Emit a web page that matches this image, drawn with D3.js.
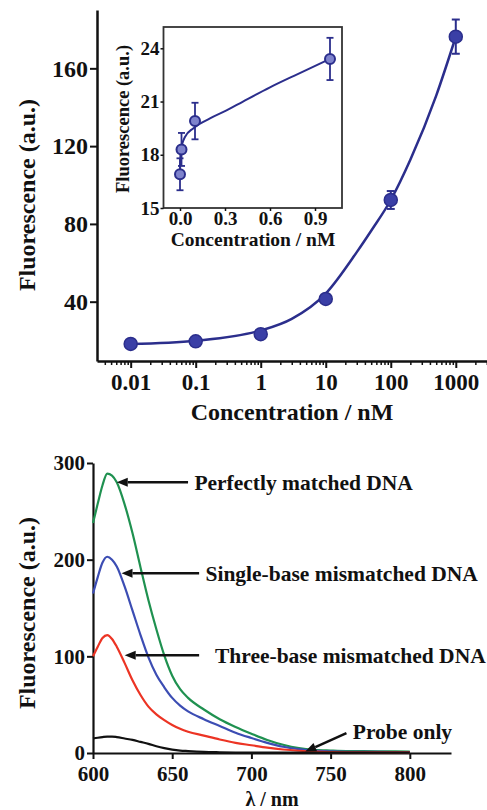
<!DOCTYPE html>
<html>

<head>
	<meta charset="utf-8">
	<title>Fluorescence vs concentration and emission spectra</title>
	<style>
		body {
			margin: 0;
			background: #fff;
		}

		svg text {
			font-family: "Liberation Serif", "Times New Roman", serif;
			font-weight: bold;
			fill: #111;
		}

		.axis path,
		.axis line {
			stroke: #111;
		}
	</style>
</head>

<body>
	<div id="chart"></div>
	<script src="https://cdn.jsdelivr.net/npm/d3@7/dist/d3.min.js"></script>
	<script>
		// ---- data: top panel (log concentration) ----
		var concs = [0.01, 0.1, 1, 10, 100, 1000];
		var fluo = [18.3, 19.6, 23.3, 41.4, 92.3, 176.3];
		var fluoErr = [1.0, 1.0, 1.2, 1.5, 4.6, 8.8];
		// fitted curve
		var fitConcs = [0.01, 0.1, 1, 3, 10, 30, 50, 100, 200, 500, 1000];
		var fitFluo = [18.2, 19.9, 25.2, 31.2, 44.2, 65.5, 76.5, 92.3, 113, 146, 176.3];
		var mainTicks = [0.01, 0.1, 1, 10, 100, 1000];
		var mainYTicks = [40, 80, 120, 160];

		// ---- data: inset (linear concentration) ----
		var insetConcs = [0, 0.01, 0.1, 1];
		var insetFluo = [16.9, 18.3, 19.9, 23.4];
		var insetErr = [0.9, 0.93, 1.03, 1.19];
		var insetFitConcs = [0, 0.004, 0.033, 0.09, 0.2, 0.31, 0.42, 0.6, 0.76, 1];
		var insetFitFluo = [16.9, 18.2, 19.0, 19.5, 20.05, 20.5, 21.0, 21.8, 22.45, 23.4];
		var insetXTicks = [0, 0.3, 0.6, 0.9];
		var insetYTicks = [15, 18, 21, 24];

		// ---- data: bottom panel (spectra) ----
		var wavelengths = [600, 603, 606, 609, 612, 615, 620, 625, 630, 635, 640, 645, 650, 655, 660, 670, 680, 690, 700, 710, 720, 730, 740, 750, 760, 780, 800];
		var perfectMatch = [238, 258, 277, 289, 287, 280, 257, 227, 192, 158, 128, 101, 80, 66, 57, 45, 35, 27, 20, 13.5, 8.5, 5, 3.2, 2.5, 2, 1.8, 1.5];
		var singleMismatch = [165, 182, 197, 203, 200, 193, 172, 147, 122, 99, 81, 68, 57, 49, 43, 35, 28, 21, 15.5, 10.5, 6.5, 4, 2.4, 1.7, 1.3, 1.1, 1];
		var threeMismatch = [100, 110, 119, 122, 118, 110, 93, 75, 60, 48, 40, 34, 29, 25, 22, 18, 14, 10.5, 8, 5.5, 3.6, 2.3, 1.4, 1, 0.8, 0.7, 0.6];
		var probeOnly = [15, 15.8, 16.5, 17, 17, 16.5, 15, 13.5, 11.5, 9.5, 7, 5, 3.5, 2.5, 2, 1.2, 0.8, 0.5, 0.4, 0.3, 0.3, 0.3, 0.3, 0.3, 0.3, 0.3, 0.3];
		var specXTicks = [600, 650, 700, 750, 800];
		var specYTicks = [0, 100, 200, 300];

		var spectra = [
			{ name: "perfect", values: perfectMatch, color: "#1f9150" },
			{ name: "single", values: singleMismatch, color: "#3c4db3" },
			{ name: "three", values: threeMismatch, color: "#ec3424" },
			{ name: "probe", values: probeOnly, color: "#111111" }
		];

		// annotations: arrow tip (wavelength, value), tail, text start
		var notes = [
			{ text: "Perfectly matched DNA", tip: [615, 280], tail: [660, 280], at: [664, 280] },
			{ text: "Single-base mismatched DNA", tip: [618, 186], tail: [667, 186], at: [671, 186] },
			{ text: "Three-base mismatched DNA", tip: [620, 101], tail: [667, 101], at: [677, 101] },
			{ text: "Probe only", tip: [734, 1.5], tail: [760, 20.5], at: [764, 22] }
		];

		var width = 487, height = 810;
		var navy = "#2b2e8c";

		var svg = d3.select("#chart").append("svg")
			.attr("width", width)
			.attr("height", height);

		svg.append("rect").attr("width", width).attr("height", height).attr("fill", "#fff");

		// ================= top panel =================
		var x = d3.scaleLog()
			.domain([Math.pow(10, -2.518), Math.pow(10, 3.48)])
			.range([97, 487]);
		var y = d3.scaleLinear()
			.domain([9.5, 190])
			.range([361, 10]);

		// minor log ticks
		var minor = [];
		for (var d = -3; d <= 3; d++) {
			for (var k = 2; k <= 9; k++) {
				var v = k * Math.pow(10, d);
				if (v > x.domain()[0] && v < x.domain()[1]) minor.push(v);
			}
		}

		var xAxisMinor = svg.append("g")
			.attr("class", "axis")
			.attr("transform", "translate(0,361)")
			.call(d3.axisBottom(x).tickValues(minor).tickSize(4).tickFormat(""));
		xAxisMinor.select(".domain").remove();
		xAxisMinor.selectAll("line").attr("stroke-width", 1.5);

		var xAxis = svg.append("g")
			.attr("class", "axis")
			.attr("transform", "translate(0,361)")
			.call(d3.axisBottom(x).tickValues(mainTicks).tickSize(7).tickSizeOuter(0)
				.tickFormat(function (d) { return d >= 1 ? d3.format("d")(d) : String(d); }));
		xAxis.select(".domain").attr("stroke-width", 2.5);
		xAxis.selectAll("line").attr("stroke-width", 2);
		xAxis.selectAll("text").attr("font-size", 23).attr("y", 6).attr("dy", "1em");

		var yAxis = svg.append("g")
			.attr("class", "axis")
			.attr("transform", "translate(97,0)")
			.call(d3.axisLeft(y).tickValues(mainYTicks).tickSize(7).tickSizeOuter(0));
		yAxis.select(".domain").attr("stroke-width", 2.5);
		yAxis.selectAll("line").attr("stroke-width", 2);
		yAxis.selectAll("text").attr("font-size", 24).attr("x", -9);

		svg.append("text")
			.attr("text-anchor", "middle")
			.attr("font-size", 24)
			.attr("transform", "translate(35,195) rotate(-90)")
			.text("Fluorescence (a.u.)");

		svg.append("text")
			.attr("x", 292).attr("y", 420)
			.attr("text-anchor", "middle")
			.attr("font-size", 24)
			.text("Concentration / nM");

		// fitted curve
		var fitLine = d3.line()
			.x(function (d, i) { return x(fitConcs[i]); })
			.y(function (d) { return y(d); })
			.curve(d3.curveMonotoneX);
		svg.append("path")
			.attr("d", fitLine(fitFluo))
			.attr("fill", "none")
			.attr("stroke", navy)
			.attr("stroke-width", 2.5);

		// error bars
		var eb = svg.append("g").attr("stroke", navy).attr("stroke-width", 2);
		concs.forEach(function (c, i) {
			var cx = x(c);
			eb.append("line").attr("x1", cx).attr("x2", cx)
				.attr("y1", y(fluo[i] - fluoErr[i])).attr("y2", y(fluo[i] + fluoErr[i]));
			[-1, 1].forEach(function (s) {
				eb.append("line").attr("x1", cx - 4).attr("x2", cx + 4)
					.attr("y1", y(fluo[i] + s * fluoErr[i])).attr("y2", y(fluo[i] + s * fluoErr[i]));
			});
		});

		// markers
		svg.append("g").selectAll("circle")
			.data(fluo)
			.join("circle")
			.attr("cx", function (d, i) { return x(concs[i]); })
			.attr("cy", function (d) { return y(d); })
			.attr("r", 6.5)
			.attr("fill", "#3a3fa6")
			.attr("stroke", navy)
			.attr("stroke-width", 1.5);

		// ================= inset =================
		var xi = d3.scaleLinear().domain([-0.11, 1.08]).range([163.5, 342]);
		var yi = d3.scaleLinear().domain([15, 25.2]).range([208, 27]);

		svg.append("rect")
			.attr("x", 163.5).attr("y", 27)
			.attr("width", 342 - 163.5).attr("height", 208 - 27)
			.attr("fill", "#fff")
			.attr("stroke", "#333")
			.attr("stroke-width", 1.8);

		var xiAxis = svg.append("g")
			.attr("class", "axis")
			.attr("transform", "translate(0,208)")
			.call(d3.axisBottom(xi).tickValues(insetXTicks).tickSize(3).tickSizeOuter(0).tickFormat(d3.format(".1f")));
		xiAxis.select(".domain").remove();
		xiAxis.selectAll("line").attr("stroke-width", 1.5);
		xiAxis.selectAll("text").attr("font-size", 19).attr("dy", "0.8em").attr("y", 2);

		var yiAxis = svg.append("g")
			.attr("class", "axis")
			.attr("transform", "translate(163.5,0)")
			.call(d3.axisLeft(yi).tickValues(insetYTicks).tickSize(3).tickSizeOuter(0));
		yiAxis.select(".domain").remove();
		yiAxis.selectAll("line").attr("stroke-width", 1.5);
		yiAxis.selectAll("text").attr("font-size", 19).attr("x", -4);

		svg.append("text")
			.attr("text-anchor", "middle")
			.attr("font-size", 18.5)
			.attr("transform", "translate(129,119) rotate(-90)")
			.text("Fluorescence (a.u.)");

		svg.append("text")
			.attr("x", 253).attr("y", 246)
			.attr("text-anchor", "middle")
			.attr("font-size", 19.5)
			.text("Concentration / nM");

		var insetLine = d3.line()
			.x(function (d, i) { return xi(insetFitConcs[i]); })
			.y(function (d) { return yi(d); })
			.curve(d3.curveMonotoneX);
		svg.append("path")
			.attr("d", insetLine(insetFitFluo))
			.attr("fill", "none")
			.attr("stroke", navy)
			.attr("stroke-width", 2);

		var ebi = svg.append("g").attr("stroke", navy).attr("stroke-width", 1.8);
		insetConcs.forEach(function (c, i) {
			var cx = xi(c);
			ebi.append("line").attr("x1", cx).attr("x2", cx)
				.attr("y1", yi(insetFluo[i] - insetErr[i])).attr("y2", yi(insetFluo[i] + insetErr[i]));
			[-1, 1].forEach(function (s) {
				ebi.append("line").attr("x1", cx - 3.5).attr("x2", cx + 3.5)
					.attr("y1", yi(insetFluo[i] + s * insetErr[i])).attr("y2", yi(insetFluo[i] + s * insetErr[i]));
			});
		});

		svg.append("g").selectAll("circle")
			.data(insetFluo)
			.join("circle")
			.attr("cx", function (d, i) { return xi(insetConcs[i]); })
			.attr("cy", function (d) { return yi(d); })
			.attr("r", 5)
			.attr("fill", "#7e83cc")
			.attr("stroke", navy)
			.attr("stroke-width", 2);

		// ================= bottom panel =================
		var xs = d3.scaleLinear().domain([600, 826]).range([93, 451]);
		var ys = d3.scaleLinear().domain([0, 300]).range([753, 463]);

		var xsAxis = svg.append("g")
			.attr("class", "axis")
			.attr("transform", "translate(0,753)")
			.call(d3.axisBottom(xs).tickValues(specXTicks).tickSize(6).tickSizeOuter(0));
		xsAxis.select(".domain").attr("stroke-width", 2.2);
		xsAxis.selectAll("line").attr("stroke-width", 2);
		xsAxis.selectAll("text").attr("font-size", 21).attr("dy", "0.9em");

		var ysAxis = svg.append("g")
			.attr("class", "axis")
			.attr("transform", "translate(93,0)")
			.call(d3.axisLeft(ys).tickValues(specYTicks).tickSize(6).tickSizeOuter(0));
		ysAxis.select(".domain").attr("stroke-width", 2.2);
		ysAxis.selectAll("line").attr("stroke-width", 2);
		ysAxis.selectAll("text").attr("font-size", 21).attr("x", -8);

		svg.append("text")
			.attr("text-anchor", "middle")
			.attr("font-size", 24)
			.attr("transform", "translate(35,613) rotate(-90)")
			.text("Fluorescence (a.u.)");

		// x title sits at the very bottom edge, as in the source figure
		svg.append("text")
			.attr("x", 272).attr("y", 806)
			.attr("text-anchor", "middle")
			.attr("font-size", 20)
			.text("λ / nm");

		var specLine = d3.line()
			.x(function (d, i) { return xs(wavelengths[i]); })
			.y(function (d) { return ys(d); })
			.curve(d3.curveMonotoneX);

		svg.append("g").selectAll("path")
			.data(spectra)
			.join("path")
			.attr("d", function (s) { return specLine(s.values); })
			.attr("fill", "none")
			.attr("stroke", function (s) { return s.color; })
			.attr("stroke-width", 2.2);

		// arrows + labels
		notes.forEach(function (n) {
			var tx = xs(n.tip[0]), ty = ys(n.tip[1]);
			var sx = xs(n.tail[0]), sy = ys(n.tail[1]);
			var ang = Math.atan2(ty - sy, tx - sx);
			var hl = 11, hw = 4.5;
			var bx = tx - hl * Math.cos(ang), by = ty - hl * Math.sin(ang);
			svg.append("line")
				.attr("x1", sx).attr("y1", sy).attr("x2", bx).attr("y2", by)
				.attr("stroke", "#111").attr("stroke-width", 2.5);
			svg.append("polygon")
				.attr("points", [
					[tx, ty],
					[bx + hw * Math.sin(ang), by - hw * Math.cos(ang)],
					[bx - hw * Math.sin(ang), by + hw * Math.cos(ang)]
				].map(function (p) { return p.join(","); }).join(" "))
				.attr("fill", "#111");
			svg.append("text")
				.attr("x", xs(n.at[0])).attr("y", ys(n.at[1]))
				.attr("dy", "0.35em")
				.attr("font-size", 21.5)
				.text(n.text);
		});
	</script>
</body>

</html>
